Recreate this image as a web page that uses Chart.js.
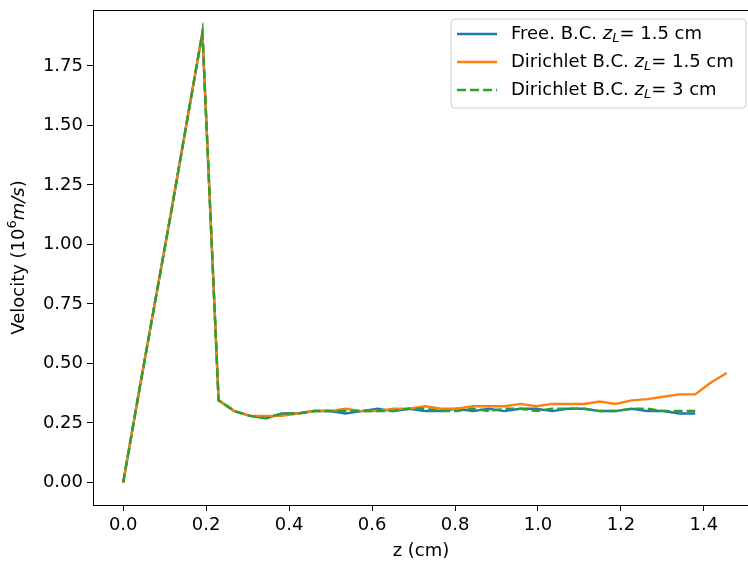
<!DOCTYPE html>
<html>
<head>
<meta charset="utf-8">
<script src="https://cdn.jsdelivr.net/npm/chart.js@4.4.1/dist/chart.umd.min.js"></script>
<style>
	html, body { margin: 0; padding: 0; background: #fff; overflow: hidden; }
	#wrap { width: 760px; height: 563px; }
</style>
</head>
<body>
<div id="wrap"><canvas id="chart" width="760" height="563"></canvas></div>
<script>
const zPos = [
	0.000, 0.038, 0.077, 0.115, 0.153, 0.191, 0.230, 0.268, 0.306, 0.345,
	0.383, 0.421, 0.460, 0.498, 0.536, 0.575, 0.613, 0.651, 0.689, 0.728,
	0.766, 0.804, 0.843, 0.881, 0.919, 0.958, 0.996, 1.034, 1.072, 1.111,
	1.149, 1.187, 1.226, 1.264, 1.302, 1.341, 1.379, 1.417, 1.455,
]
const freeShort = [
	0.00, 0.38, 0.76, 1.13, 1.51, 1.89, 0.345, 0.30, 0.28, 0.27,
	0.29, 0.29, 0.30, 0.30, 0.29, 0.30, 0.31, 0.30, 0.31, 0.30,
	0.30, 0.31, 0.30, 0.31, 0.30, 0.31, 0.31, 0.30, 0.31, 0.31,
	0.30, 0.30, 0.31, 0.30, 0.30, 0.29, 0.29,
]
const dirShort = [
	0.00, 0.38, 0.76, 1.13, 1.51, 1.89, 0.345, 0.30, 0.28, 0.28,
	0.28, 0.29, 0.30, 0.30, 0.31, 0.30, 0.30, 0.31, 0.31, 0.32,
	0.31, 0.31, 0.32, 0.32, 0.32, 0.33, 0.32, 0.33, 0.33, 0.33,
	0.34, 0.33, 0.345, 0.35, 0.36, 0.37, 0.37, 0.42, 0.46,
]
const dirLong = [
	0.00, 0.38, 0.76, 1.13, 1.51, 1.89, 0.345, 0.30, 0.28, 0.27,
	0.29, 0.29, 0.30, 0.30, 0.30, 0.30, 0.30, 0.30, 0.31, 0.31,
	0.30, 0.30, 0.31, 0.30, 0.31, 0.31, 0.30, 0.31, 0.31, 0.31,
	0.30, 0.30, 0.31, 0.31, 0.30, 0.30, 0.30,
]
const xTicks = [0.0, 0.2, 0.4, 0.6, 0.8, 1.0, 1.2, 1.4]
const yTicks = [0.0, 0.25, 0.5, 0.75, 1.0, 1.25, 1.5, 1.75]
const legendNames = ['Free. B.C. ', 'Dirichlet B.C. ', 'Dirichlet B.C. ']
const legendZl = ['= 1.5 cm', '= 1.5 cm', '= 3 cm']

const colors = ['#1f77b4', '#ff7f0e', '#2ca02c']
const FONT = '"DejaVu Sans", sans-serif'
const FS = 18

const pts = (ys) => ys.map((y, i) => ({ x: zPos[i], y }))

const framePlugin = {
	id: 'frame',
	afterDatasetsDraw(chart) {
		const { ctx, chartArea: a } = chart
		ctx.save()
		ctx.strokeStyle = '#000'
		ctx.lineWidth = 1
		ctx.strokeRect(Math.round(a.left) + 0.5, Math.round(a.top) + 0.5, a.right - a.left, a.bottom - a.top)
		ctx.restore()
	},
	afterDraw(chart) {
		const { ctx, chartArea: a } = chart
		ctx.save()
		ctx.fillStyle = '#000'
		ctx.textBaseline = 'alphabetic'

		// x title
		ctx.font = `${FS}px ${FONT}`
		ctx.textAlign = 'center'
		ctx.fillText('z (cm)', (a.left + a.right) / 2 - 4, 556)

		// y title with superscript and italic units
		const parts = [
			{ t: 'Velocity (10', f: `${FS}px ${FONT}`, dy: 0 },
			{ t: '6', f: `${Math.round(FS * 0.7)}px ${FONT}`, dy: -8 },
			{ t: 'm/s', f: `italic ${FS}px ${FONT}`, dy: 0 },
			{ t: ')', f: `${FS}px ${FONT}`, dy: 0 },
		]
		let total = 0
		parts.forEach((p) => {
			ctx.font = p.f
			p.w = ctx.measureText(p.t).width
			total += p.w
		})
		ctx.translate(24, (a.top + a.bottom) / 2)
		ctx.rotate(-Math.PI / 2)
		ctx.textAlign = 'left'
		let x = -total / 2
		parts.forEach((p) => {
			ctx.font = p.f
			ctx.fillText(p.t, x, p.dy)
			x += p.w
		})
		ctx.restore()

		// legend
		ctx.save()
		const bx = 451, by = 19, bw = 295, bh = 89, r = 4
		ctx.beginPath()
		ctx.moveTo(bx + r, by)
		ctx.arcTo(bx + bw, by, bx + bw, by + bh, r)
		ctx.arcTo(bx + bw, by + bh, bx, by + bh, r)
		ctx.arcTo(bx, by + bh, bx, by, r)
		ctx.arcTo(bx, by, bx + bw, by, r)
		ctx.closePath()
		ctx.fillStyle = 'rgba(255,255,255,0.8)'
		ctx.fill()
		ctx.strokeStyle = '#cccccc'
		ctx.lineWidth = 1
		ctx.stroke()

		const rows = [34, 62, 90]
		rows.forEach((ry, i) => {
			ctx.strokeStyle = colors[i]
			ctx.lineWidth = 2.4
			ctx.setLineDash(i === 2 ? [9, 4] : [])
			ctx.beginPath()
			ctx.moveTo(457, ry)
			ctx.lineTo(497, ry)
			ctx.stroke()
			ctx.setLineDash([])

			ctx.fillStyle = '#000'
			ctx.textAlign = 'left'
			ctx.textBaseline = 'middle'
			let tx = 511
			ctx.font = `${FS}px ${FONT}`
			ctx.fillText(legendNames[i], tx, ry)
			tx += ctx.measureText(legendNames[i]).width
			ctx.font = `italic ${FS}px ${FONT}`
			ctx.fillText('z', tx, ry)
			tx += ctx.measureText('z').width
			ctx.font = `italic ${Math.round(FS * 0.7)}px ${FONT}`
			ctx.fillText('L', tx, ry + 5)
			tx += ctx.measureText('L').width
			ctx.font = `${FS}px ${FONT}`
			ctx.fillText(legendZl[i], tx, ry)
		})
		ctx.restore()
	},
}

const axisCommon = {
	type: 'linear',
	border: { color: '#000', width: 1 },
	grid: {
		drawOnChartArea: false,
		drawTicks: true,
		tickLength: 6,
		tickWidth: 1,
		color: '#000',
	},
}

new Chart(document.getElementById('chart'), {
	type: 'line',
	data: {
		datasets: [
			{
				label: 'Free. B.C. zL= 1.5 cm',
				data: pts(freeShort),
				borderColor: colors[0],
				borderWidth: 2.4,
				order: 3,
			},
			{
				label: 'Dirichlet B.C. zL= 1.5 cm',
				data: pts(dirShort),
				borderColor: colors[1],
				borderWidth: 2.4,
				order: 2,
			},
			{
				label: 'Dirichlet B.C. zL= 3 cm',
				data: pts(dirLong),
				borderColor: colors[2],
				borderWidth: 2.4,
				borderDash: [9, 4],
				order: 1,
			},
		],
	},
	options: {
		responsive: false,
		animation: false,
		events: [],
		elements: {
			point: { radius: 0 },
			line: { tension: 0, fill: false, borderCapStyle: 'butt' },
		},
		layout: { padding: { top: 10, right: 3, left: 0, bottom: 0 } },
		plugins: {
			legend: { display: false },
			tooltip: { enabled: false },
		},
		scales: {
			x: {
				...axisCommon,
				position: 'bottom',
				min: -0.0728,
				max: 1.528,
				afterBuildTicks: (s) => {
					s.ticks = xTicks.map((v) => ({ value: v }))
				},
				afterFit: (s) => {
					s.height = 58
					s.paddingLeft = 0
					s.paddingRight = 0
				},
				ticks: {
					color: '#000',
					padding: 4,
					maxRotation: 0,
					autoSkip: false,
					font: { family: FONT, size: FS },
					callback: (v) => Number(v).toFixed(1),
				},
			},
			y: {
				...axisCommon,
				position: 'left',
				min: -0.0945,
				max: 1.9845,
				afterBuildTicks: (s) => {
					s.ticks = yTicks.map((v) => ({ value: v }))
				},
				afterFit: (s) => {
					s.width = 93
					s.paddingTop = 0
					s.paddingBottom = 0
				},
				ticks: {
					color: '#000',
					padding: 4,
					autoSkip: false,
					font: { family: FONT, size: FS },
					callback: (v) => Number(v).toFixed(2),
				},
			},
		},
	},
	plugins: [framePlugin],
})
</script>
</body>
</html>
